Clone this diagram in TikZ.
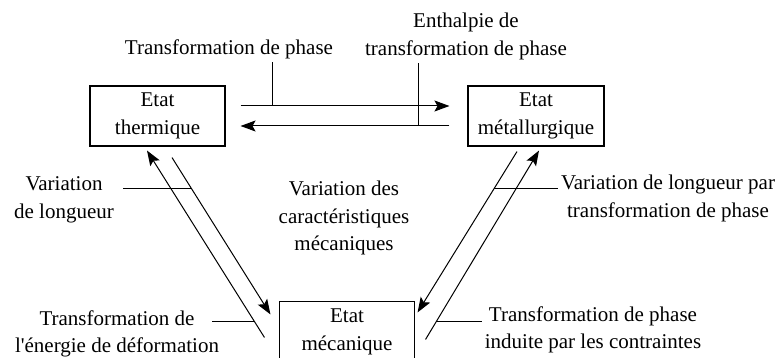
\documentclass[tikz,border=0pt]{standalone}
\usepackage{fontspec}
\setmainfont{Liberation Serif}
\usetikzlibrary{arrows.meta,calc}

\begin{document}
\begin{tikzpicture}[
    x=1pt, y=-1pt,
    font=\fontsize{21}{27.5}\selectfont,
    etat/.style={draw, line width=1.1pt, minimum width=135pt, minimum height=60pt, align=center, inner sep=0pt},
    lbl/.style={align=center, inner sep=3pt},
    arrow/.style={-{Stealth[length=15pt, width=11pt, inset=3pt]}, line width=1pt},
    lead/.style={line width=0.9pt}
]
    \useasboundingbox (0,0) rectangle (779,358);

    % States
    \node[etat] (therm) at (157.5,116) {Etat\\thermique};
    \node[etat, minimum width=136pt] (metal) at (536,116) {Etat\\métallurgique};
    \node[etat] (meca) at (347,331.7) {Etat\\mécanique};

    % Couplings
    \node[lbl] (tp) at (229,49.5) {Transformation de phase};
    \node[lbl] (ent) at (466,36.6) {Enthalpie de\\transformation de phase};
    \node[lbl] (vl) at (64,200) {Variation\\de longueur};
    \node[lbl] (te) at (117,333.7) {Transformation de\\l\textquotesingle énergie de déformation};
    \node[lbl] (vdc) at (344,218) {Variation des\\caractéristiques\\mécaniques};
    \node[lbl] (vlp) at (668,198.7) {Variation de longueur par\\transformation de phase};
    \node[lbl] (tpc) at (593,330) {Transformation de phase\\induite par les contraintes};

    % Arrows
    \draw[arrow] ($(therm.east)+(15,-10)$) -- ($(metal.west)+(-18,-10)$) coordinate[pos=0.152] (k1);
    \draw[arrow] ($(metal.west)+(-18,10)$) -- ($(therm.east)+(15,10)$) coordinate[pos=0.148] (k2);
    \draw[arrow] ($(therm.south)+(14.5,11)$) -- ($(meca.north west)+(-8.5,13.3)$) coordinate[pos=0.196] (a1);
    \draw[arrow] ($(meca.north west)+(-14.5,36.3)$) -- ($(therm.south)+(-10.5,4)$) coordinate[pos=0.085] (a2);
    \draw[arrow] ($(metal.south)+(-19,5)$) -- ($(meca.north east)+(2.5,11.3)$) coordinate[pos=0.228] (a3);
    \draw[arrow] ($(meca.north east)+(10.5,38.3)$) -- ($(metal.south)+(3,4)$) coordinate[pos=0.095] (a4);

    % Leaders
    \draw[lead] (k1) -- (k1 |- tp.south);
    \draw[lead] (k2) -- (k2 |- ent.south);
    \draw[lead] (a1) -- ($(a1 -| vl.east)+(6,0)$);
    \draw[lead] (a2) -- ($(a2 -| te.east)+(-10,0)$);
    \draw[lead] (a3) -- (a3 -| vlp.west);
    \draw[lead] (a4) -- (a4 -| tpc.west);
\end{tikzpicture}
\end{document}
